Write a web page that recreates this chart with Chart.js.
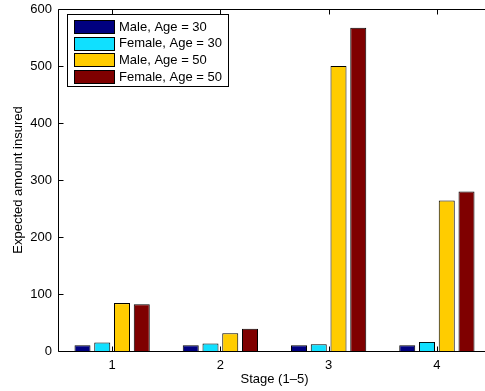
<!DOCTYPE html>
<html lang="en">
<head>
    <meta charset="UTF-8">
    <title>Expected amount insured</title>
    <script src="https://cdn.jsdelivr.net/npm/chart.js"></script>
    <style>
        html, body { margin: 0; padding: 0; background: #fff; overflow: hidden; }
        .chart-container { position: relative; width: 500px; height: 391px; }
    </style>
</head>
<body>
    <div class="chart-container">
        <canvas id="insuredChart" width="500" height="391"></canvas>
    </div>
    <script>
        // Dados
        const stages = ['1', '2', '3', '4'];
        const seriesLabels = ['Male, Age = 30', 'Female, Age = 30', 'Male, Age = 50', 'Female, Age = 50'];
        const male30 = [10, 10, 10, 10];
        const female30 = [15, 13, 12, 16];
        const male50 = [84, 31, 500, 264];
        const female50 = [82, 39, 567, 280];
        const yTicks = [0, 100, 200, 300, 400, 500, 600];
        const colors = ['#000080', '#10E0FF', '#FFCC00', '#7F0000'];

        const FONT = '13px "Liberation Sans", Arial, sans-serif';

        // Eixos no estilo MATLAB, ticks para dentro
        // (a borda direita fica fora da janela de 485px, como no original)
        const matlabAxes = {
            id: 'matlabAxes',
            afterDatasetsDraw(chart) {
                const { ctx, chartArea: a, scales } = chart;
                const x = scales.x, y = scales.y;
                const L = Math.round(a.left) + 0.5, T = Math.round(a.top) + 0.5;
                const R = Math.round(a.right) + 0.5, B = Math.round(a.bottom) + 0.5;
                ctx.save();
                ctx.strokeStyle = '#000';
                ctx.lineWidth = 1;
                ctx.beginPath();
                ctx.moveTo(R, T); ctx.lineTo(L, T); ctx.lineTo(L, B); ctx.lineTo(R, B);
                yTicks.forEach(v => {
                    const py = Math.round(y.getPixelForValue(v)) + 0.5;
                    ctx.moveTo(L, py); ctx.lineTo(L + 5, py);
                });
                stages.forEach((s, i) => {
                    const px = Math.round(x.getPixelForValue(i)) + 0.5;
                    ctx.moveTo(px, B); ctx.lineTo(px, B - 5);
                    ctx.moveTo(px, T); ctx.lineTo(px, T + 5);
                });
                ctx.stroke();

                ctx.fillStyle = '#000';
                ctx.font = FONT;
                ctx.textAlign = 'right';
                ctx.textBaseline = 'middle';
                yTicks.forEach(v => ctx.fillText(String(v), a.left - 6, y.getPixelForValue(v)));
                ctx.textAlign = 'center';
                stages.forEach((s, i) => ctx.fillText(s, x.getPixelForValue(i), a.bottom + 14));
                ctx.fillText('Stage (1\u20135)', (a.left + a.right) / 2, a.bottom + 28);
                ctx.save();
                ctx.translate(18, (a.top + a.bottom) / 2);
                ctx.rotate(-Math.PI / 2);
                ctx.fillText('Expected amount insured', 0, 0);
                ctx.restore();

                // Legenda
                const lx = 67, ly = 14, lw = 161, lh = 72;
                ctx.fillStyle = '#fff';
                ctx.fillRect(lx, ly, lw, lh);
                ctx.strokeRect(lx + 0.5, ly + 0.5, lw, lh);
                ctx.textAlign = 'left';
                chart.data.datasets.forEach((ds, i) => {
                    const cy = 26 + i * 16.7;
                    ctx.fillStyle = ds.backgroundColor;
                    ctx.fillRect(74, Math.round(cy - 6), 40, 13);
                    ctx.strokeRect(74.5, Math.round(cy - 6) + 0.5, 40, 13);
                    ctx.fillStyle = '#000';
                    ctx.fillText(ds.label, 119, cy + 1);
                });
                ctx.restore();
            }
        };

        const series = [male30, female30, male50, female50];
        const ctx = document.getElementById('insuredChart').getContext('2d');
        new Chart(ctx, {
            type: 'bar',
            data: {
                labels: stages,
                datasets: series.map((d, i) => ({
                    label: seriesLabels[i],
                    data: d,
                    backgroundColor: colors[i],
                    borderColor: '#000',
                    borderWidth: 1,
                    categoryPercentage: 0.73,
                    barPercentage: 0.81
                }))
            },
            options: {
                responsive: false,
                devicePixelRatio: 1,
                animation: false,
                layout: { padding: { left: 58, top: 9, right: 9, bottom: 40 } },
                plugins: { legend: { display: false }, tooltip: { enabled: false } },
                scales: {
                    x: { display: false, offset: true },
                    y: { display: false, min: 0, max: 600 }
                }
            },
            plugins: [matlabAxes]
        });
    </script>
</body>
</html>
